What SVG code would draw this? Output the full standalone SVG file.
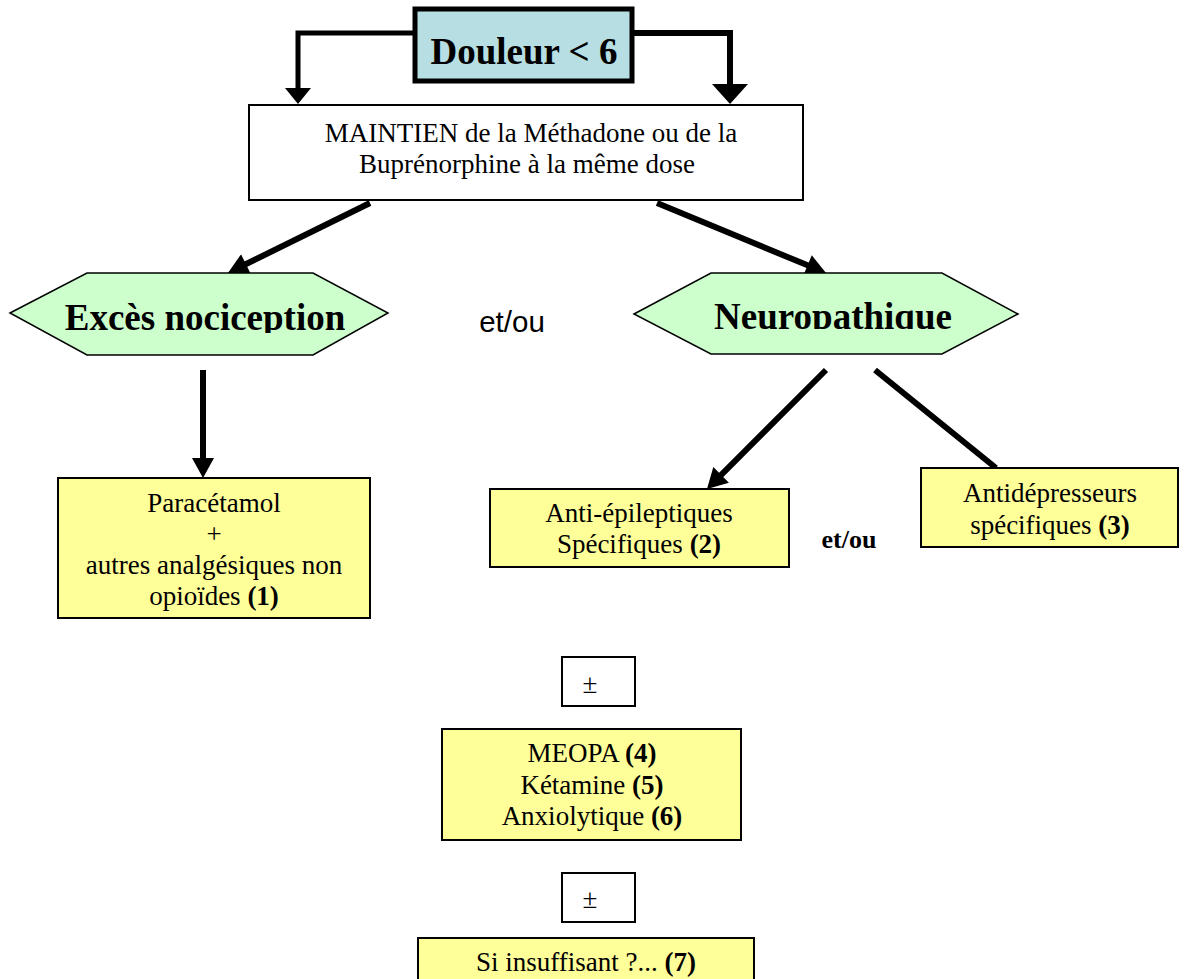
<svg xmlns="http://www.w3.org/2000/svg" width="1185" height="979" viewBox="0 0 1185 979">
<style>
.serif{font-family:"Liberation Serif","Times New Roman",serif;fill:#000}
.t26{font-size:27px;text-anchor:middle}
.big{font-size:37px;font-weight:bold;text-anchor:middle}
.box{stroke:#000;stroke-width:2}
.yel{fill:#ffff99}
.wht{fill:#fff}
.hex{fill:#ccffcc;stroke:#000;stroke-width:1.5}
.con{fill:none;stroke:#000;stroke-linejoin:miter;stroke-linecap:butt}
</style>
<defs>
<marker id="ah" markerUnits="userSpaceOnUse" markerWidth="22" markerHeight="22" refX="2" refY="11" orient="auto" viewBox="0 0 20 22">
<path d="M0,0 L20,11 L0,22 Z" fill="#000"/>
</marker>
<marker id="ahS" markerUnits="userSpaceOnUse" markerWidth="18" markerHeight="26" refX="2" refY="13" orient="auto" viewBox="0 0 16 26">
<path d="M0,0 L16,13 L0,26 Z" fill="#000"/>
</marker>
<marker id="ahB" markerUnits="userSpaceOnUse" markerWidth="22" markerHeight="36" refX="2" refY="18" orient="auto" viewBox="0 0 20 36">
<path d="M0,0 L20,18 L0,36 Z" fill="#000"/>
</marker>
<clipPath id="clipL"><rect x="0" y="270" width="400" height="63"/></clipPath>
<clipPath id="clipR"><rect x="620" y="270" width="420" height="59"/></clipPath>
</defs>

<g id="connectors">
<polyline class="con" stroke-width="5" points="413,33 298,33 298,90" marker-end="url(#ahS)"/>
<polyline class="con" stroke-width="6" points="634,33 730,33 730,86" marker-end="url(#ahB)"/>
<line class="con" stroke-width="6" x1="370" y1="203" x2="244.1" y2="265" marker-end="url(#ah)"/>
<line class="con" stroke-width="6" x1="657" y1="203" x2="809.4" y2="266.1" marker-end="url(#ah)"/>
<line class="con" stroke-width="6" x1="203" y1="370" x2="203" y2="460" marker-end="url(#ah)"/>
<line class="con" stroke-width="6" x1="826" y1="370" x2="719.7" y2="476.3" marker-end="url(#ah)"/>
<line class="con" stroke-width="6" x1="875" y1="370" x2="996" y2="468"/>
</g>

<g id="douleur">
<rect x="415" y="9" width="217" height="72" fill="#b7dee3" stroke="#000" stroke-width="5"/>
<text class="serif big" x="524" y="64">Douleur &lt; 6</text>
</g>

<g id="maintien">
<rect class="box wht" x="249" y="105" width="554" height="95" stroke-width="1.5"/>
<text class="serif t26" x="531" y="142">MAINTIEN de la Méthadone ou de la</text>
<text class="serif t26" x="527" y="173">Buprénorphine à la même dose</text>
</g>

<g id="exces">
<polygon class="hex" points="10,313 87,273 313,273 388,313 313,355 87,355"/>
<text class="serif big" x="205" y="330" clip-path="url(#clipL)">Excès nociception</text>
</g>

<g id="etou1">
<text x="512" y="332" font-family="'Liberation Sans',Arial,sans-serif" font-size="29.5" text-anchor="middle">et/ou</text>
</g>

<g id="neuro">
<polygon class="hex" points="634,314 711,273 942,273 1018,314 942,354 711,354"/>
<text class="serif big" x="833" y="329" clip-path="url(#clipR)">Neuropathique</text>
</g>

<g id="paracetamol">
<rect class="box yel" x="58" y="478" width="312" height="140"/>
<text class="serif t26" x="214" y="512">Paracétamol</text>
<text class="serif t26" x="214" y="543">+</text>
<text class="serif t26" x="214" y="574">autres analgésiques non</text>
<text class="serif t26" x="214" y="605">opioïdes <tspan font-weight="bold">(1)</tspan></text>
</g>

<g id="antiepileptiques">
<rect class="box yel" x="490" y="489" width="299" height="78"/>
<text class="serif t26" x="639" y="522">Anti-épileptiques</text>
<text class="serif t26" x="639" y="553">Spécifiques <tspan font-weight="bold">(2)</tspan></text>
</g>

<g id="etou2">
<text class="serif" x="849" y="548" font-size="26" font-weight="bold" text-anchor="middle">et/ou</text>
</g>

<g id="antidepresseurs">
<rect class="box yel" x="921" y="468" width="257" height="79"/>
<text class="serif t26" x="1050" y="502">Antidépresseurs</text>
<text class="serif t26" x="1050" y="534">spécifiques <tspan font-weight="bold">(3)</tspan></text>
</g>

<g id="pm1">
<rect class="box wht" x="562" y="657" width="73" height="49" stroke-width="1.5"/>
<text class="serif t26" x="590" y="693">±</text>
</g>

<g id="meopa">
<rect class="box yel" x="442" y="729" width="299" height="111"/>
<text class="serif t26" x="592" y="762">MEOPA <tspan font-weight="bold">(4)</tspan></text>
<text class="serif t26" x="592" y="794">Kétamine <tspan font-weight="bold">(5)</tspan></text>
<text class="serif t26" x="592" y="825">Anxiolytique <tspan font-weight="bold">(6)</tspan></text>
</g>

<g id="pm2">
<rect class="box wht" x="562" y="873" width="73" height="49" stroke-width="1.5"/>
<text class="serif t26" x="590" y="908">±</text>
</g>

<g id="insuffisant">
<rect class="box yel" x="418" y="938" width="336" height="60"/>
<text class="serif t26" x="586" y="971">Si insuffisant ?... <tspan font-weight="bold">(7)</tspan></text>
</g>
</svg>
